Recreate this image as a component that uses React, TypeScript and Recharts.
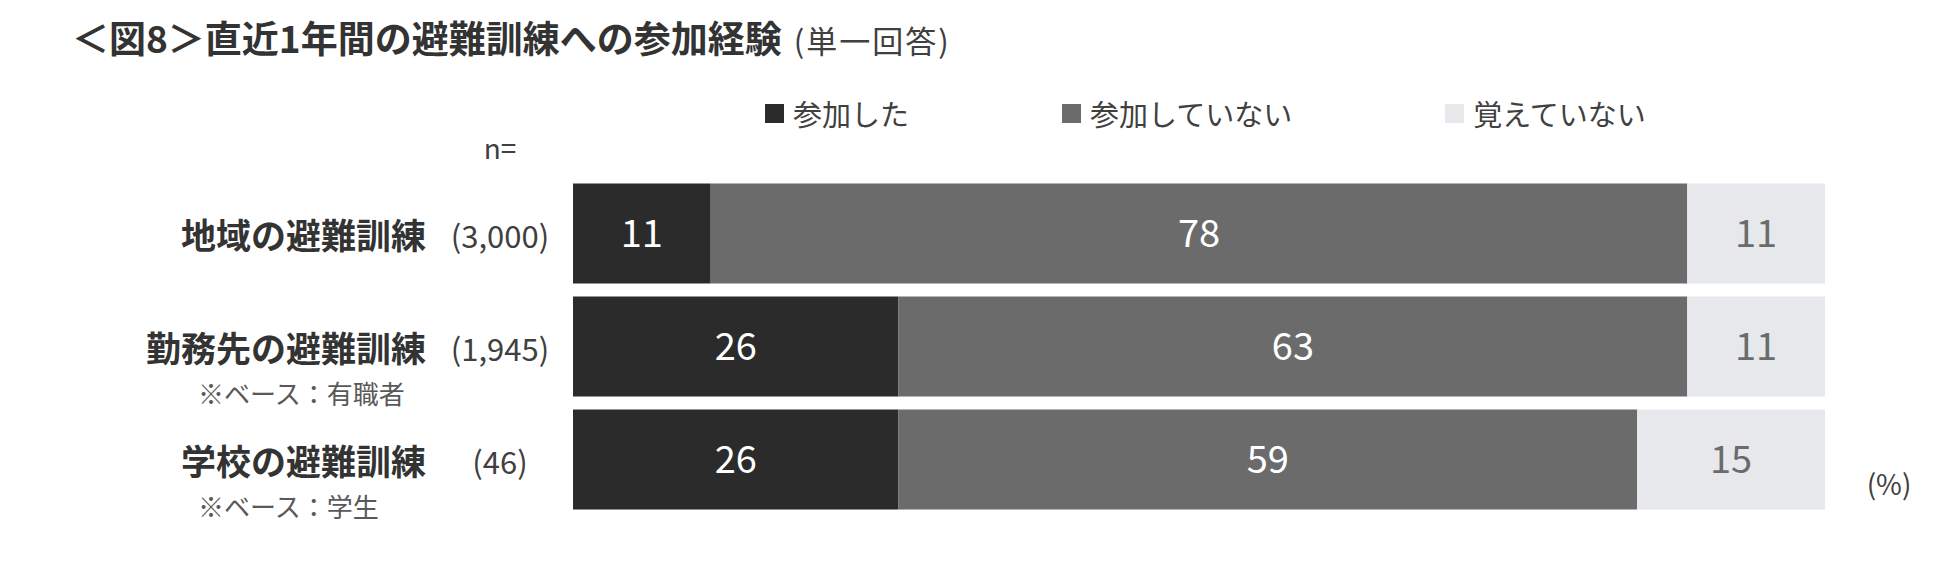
import React from 'react';
import { BarChart, Bar, XAxis, YAxis, LabelList } from 'recharts';

const categories = ['地域の避難訓練', '勤務先の避難訓練', '学校の避難訓練'];
const sampleSizes = ['(3,000)', '(1,945)', '(46)'];
const baseNotes = ['', '※ベース：有職者', '※ベース：学生'];
const participated = [11, 26, 26];
const notParticipated = [78, 63, 59];
const notRemember = [11, 11, 15];
const seriesNames = ['参加した', '参加していない', '覚えていない'];
const seriesKeys = ['participated', 'notParticipated', 'notRemember'];
const seriesColors = ['#2b2b2b', '#6b6b6b', '#e6e8ec'];
const labelColors = ['#ffffff', '#ffffff', '#6b6b6b'];

const data = categories.map((category, i) => ({
  category,
  participated: participated[i],
  notParticipated: notParticipated[i],
  notRemember: notRemember[i],
}));

const FONT = '"Noto Sans CJK JP", "Noto Sans", sans-serif';

const CategoryTick = (props: any) => {
  const { y, payload } = props;
  const i = payload.index;
  return (
    <g>
      <text x={426} y={y} textAnchor="end" dominantBaseline="central" fontFamily={FONT} fontSize={35} fontWeight={700} fill="#333333">
        {categories[i]}
      </text>
      <text x={500} y={y + 1} textAnchor="middle" dominantBaseline="central" fontFamily={FONT} fontSize={31} fill="#404040">
        {sampleSizes[i]}
      </text>
      {baseNotes[i] ? (
        <text x={198} y={y + 46} textAnchor="start" dominantBaseline="central" fontFamily={FONT} fontSize={26} fill="#595959">
          {baseNotes[i]}
        </text>
      ) : null}
    </g>
  );
};

export default function App() {
  return (
    <div style={{ position: 'absolute', left: 0, top: 0, width: 1950, height: 566, background: '#ffffff', fontFamily: FONT }}>
      <div style={{ position: 'absolute', left: 72, top: 15, height: 44, lineHeight: '44px', whiteSpace: 'nowrap', color: '#333333' }}>
        <span style={{ fontSize: 37, fontWeight: 700 }}>＜図8＞直近1年間の避難訓練への参加経験</span>
        <span style={{ fontSize: 31, marginLeft: 12, letterSpacing: 2, color: '#404040' }}>(単一回答)</span>
      </div>
      <div style={{ position: 'absolute', left: 765, top: 95, height: 36, display: 'flex', alignItems: 'center', gap: 153, whiteSpace: 'nowrap' }}>
        {seriesNames.map((name, i) => (
          <div key={name} style={{ display: 'flex', alignItems: 'center' }}>
            <span style={{ display: 'inline-block', width: 19, height: 19, background: seriesColors[i], marginRight: 9 }} />
            <span style={{ fontSize: 29, lineHeight: '36px', color: '#404040' }}>{name}</span>
          </div>
        ))}
      </div>
      <div style={{ position: 'absolute', left: 460, width: 80, textAlign: 'center', top: 130, lineHeight: '34px', fontSize: 28, color: '#404040' }}>n=</div>
      <div style={{ position: 'absolute', left: 1849, width: 80, textAlign: 'center', top: 466, lineHeight: '34px', fontSize: 28, color: '#404040' }}>(%)</div>
      <div style={{ position: 'absolute', left: 0, top: 0 }}>
        <BarChart
          width={1950}
          height={566}
          data={data}
          layout="vertical"
          margin={{ top: 176.5, right: 125, bottom: 50.5, left: 0 }}
          barSize={100}
        >
          <XAxis type="number" domain={[0, 100]} hide />
          <YAxis
            type="category"
            dataKey="category"
            width={573}
            axisLine={false}
            tickLine={false}
            interval={0}
            tick={<CategoryTick />}
          />
          {seriesKeys.map((key, i) => (
            <Bar key={key} dataKey={key} name={seriesNames[i]} stackId="s" fill={seriesColors[i]} isAnimationActive={false}>
              <LabelList dataKey={key} position="center" fill={labelColors[i]} fontSize={38} fontFamily={FONT} />
            </Bar>
          ))}
        </BarChart>
      </div>
    </div>
  );
}
